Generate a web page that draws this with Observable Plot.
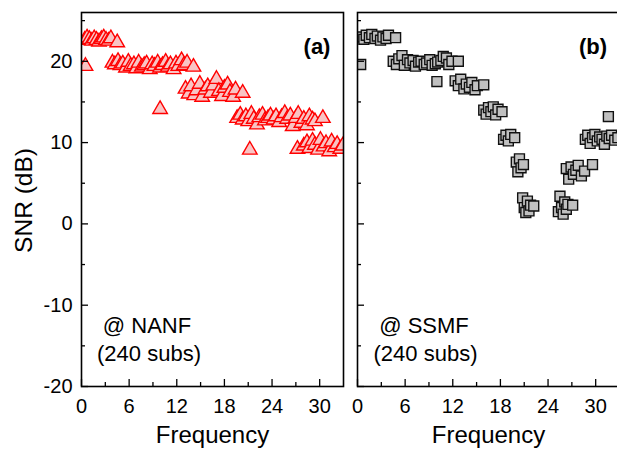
<!DOCTYPE html>
<html><head><meta charset="utf-8">
<script src="https://cdn.jsdelivr.net/npm/d3@7"></script>
<script src="https://cdn.jsdelivr.net/npm/@observablehq/plot@0.6"></script>
<style>
html,body{margin:0;padding:0;background:#fff;overflow:hidden;}
#wrap{position:relative;width:617px;height:455px;overflow:hidden;background:#fff;}
#wrap svg{position:absolute;top:0;background:transparent !important;max-width:none !important;}
</style></head><body><div id="wrap"></div>
<script>
// ---- NANF panel (a) : frequency / SNR (dB)
const nanfFreq = [
  0.5,
  0.4,0.7,1.0,1.3,1.6,1.9,2.2,2.5,2.8,3.1,3.4,3.7,4.5,
  3.9,4.2,4.6,4.9,5.2,5.6,5.9,6.2,6.6,6.9,7.2,7.6,7.9,8.2,8.6,8.9,9.2,9.6,9.9,10.2,10.6,10.9,11.2,11.6,11.9,12.2,12.6,12.9,13.3,14.1,
  9.9,
  13.1,13.5,13.8,14.2,14.5,14.9,15.2,15.6,15.9,16.3,16.6,17.0,17.3,17.7,18.0,18.4,18.7,19.1,19.4,20.3,
  21.2,
  19.6,20.0,20.3,20.7,21.0,21.4,21.7,22.1,22.4,22.8,23.1,23.5,23.8,24.2,24.5,24.9,25.2,25.6,25.9,26.3,26.6,27.0,27.3,27.7,28.0,28.4,28.7,29.1,29.4,30.4,
  27.2,
  28.0,28.4,28.7,29.1,29.4,29.8,30.1,30.5,30.8,31.2,31.5,31.9,32.2,32.6,32.9
];
const nanfSNR = [
  19.4,
  22.6,22.9,22.7,22.5,22.8,22.6,22.4,22.7,22.9,22.6,22.5,22.8,22.3,
  19.8,19.6,20.0,19.5,19.7,19.2,19.9,19.4,19.6,19.1,19.8,19.3,19.5,19.7,19.0,19.6,19.4,19.8,19.2,19.5,19.9,19.3,19.6,19.0,19.7,19.4,20.1,19.5,19.8,19.3,
  14.1,
  16.6,16.0,16.9,15.8,16.4,17.2,15.6,16.5,16.9,16.1,17.0,17.8,16.3,15.7,16.7,17.1,16.2,15.6,16.5,16.1,
  9.1,
  13.0,13.4,12.8,13.2,12.6,13.5,12.9,12.2,13.1,13.4,12.7,13.0,13.3,12.8,13.2,12.5,13.1,13.6,12.9,13.3,12.0,13.0,13.5,12.4,12.9,12.1,13.2,12.8,12.6,13.0,
  9.2,
  9.6,10.0,9.3,10.2,9.7,9.1,10.3,9.5,9.9,8.9,10.1,9.4,9.8,9.2,9.6
];
// ---- SSMF panel (b)
const ssmfFreq = [
  0.4,
  0.4,0.8,1.1,1.5,1.8,2.2,2.5,2.9,3.2,3.6,3.9,4.8,
  4.5,4.9,5.2,5.6,5.9,6.3,6.6,7.0,7.3,7.7,8.0,8.4,8.7,9.1,9.4,9.8,10.1,10.5,10.8,11.2,11.5,11.9,12.7,
  10.0,
  12.3,12.7,13.0,13.4,13.7,14.1,14.4,14.8,15.1,15.9,
  15.9,16.2,16.5,16.8,17.1,17.4,17.7,18.2,
  18.4,18.7,19.0,19.3,19.8,
  20.0,20.2,20.4,20.6,20.9,
  20.8,21.0,21.2,21.4,21.6,21.8,22.2,
  25.3,25.5,25.7,25.9,26.1,26.3,26.5,27.1,
  26.3,26.6,26.9,27.2,27.5,27.8,28.2,28.6,29.6,
  28.7,29.0,29.3,29.6,29.9,30.2,30.5,30.8,31.1,31.4,31.7,32.0,32.4,32.8,
  31.6
];
const ssmfSNR = [
  19.6,
  23.0,22.7,23.2,22.9,23.3,22.8,23.1,22.6,23.0,22.8,23.2,22.9,
  20.0,19.6,20.3,20.7,19.5,20.2,19.8,20.1,19.4,19.9,20.0,19.6,19.8,20.2,19.5,19.7,19.9,20.1,20.6,20.4,19.6,20.0,20.0,
  17.5,
  17.6,17.0,17.8,16.6,17.2,16.8,17.4,16.5,17.0,17.1,
  14.0,13.5,14.3,13.8,14.4,13.4,14.1,13.8,
  10.4,10.9,10.2,11.0,10.6,
  7.6,6.4,8.0,6.9,7.3,
  3.2,2.0,1.4,2.8,1.6,2.3,2.2,
  1.5,3.4,2.0,1.2,2.7,1.8,2.4,2.3,
  6.8,5.5,7.0,6.1,6.6,7.2,5.9,6.5,7.3,
  10.4,10.9,9.9,10.6,11.0,10.2,10.7,10.4,9.8,10.8,10.5,10.9,10.3,10.6,
  13.2
];
const xMajorTicks = [0, 6, 12, 18, 24, 30];
const xMinorTicks = [3, 9, 15, 21, 27];
const yMajorTicks = [-20, -10, 0, 10, 20];
const yMinorTicks = [-15, -5, 5, 15, 25];
const xDomain = [0, 33];
const yDomain = [-20, 26];
const panelTags = ["(a)", "(b)"];
const fiberLabels = ["@ NANF", "@ SSMF"];
const subsLabel = "(240 subs)";
const xTitle = "Frequency";
const yTitle = "SNR (dB)";

const FONT = "Arial, 'Liberation Sans', sans-serif";

function panel(opts) {
  const rows = opts.fx.map((f, i) => ({f, s: opts.sy[i]}));
  const marks = [
    Plot.dot(rows, {x: "f", y: "s", symbol: opts.symbol, r: opts.r, fill: opts.fill,
      stroke: opts.stroke, strokeWidth: 1.4, fillOpacity: 1, clip: true}),
    Plot.frame({stroke: "black", strokeWidth: 1.6}),
    Plot.axisX({ticks: xMinorTicks, tickSize: -4, tickFormat: () => "", label: null, strokeWidth: 1.3}),
    Plot.axisX({ticks: xMajorTicks, tickSize: -7, tickPadding: 19, label: null, strokeWidth: 1.3,
      fontSize: 20, fill: "black"}),
    Plot.axisY({ticks: yMinorTicks, tickSize: -4, tickFormat: () => "", label: null, strokeWidth: 1.3}),
    Plot.axisY({ticks: yMajorTicks, tickSize: -7, tickPadding: 16, label: null, strokeWidth: 1.3,
      fontSize: 20, fill: "black", tickFormat: opts.yLabels ? (d => String(d)) : (() => "")}),
    Plot.text([opts.tag], {frameAnchor: "top-right", dx: -26.5, dy: 26, textAnchor: "middle",
      fontWeight: "bold", fontSize: 22, fill: "black"}),
    Plot.text([opts.fiber], {frameAnchor: "bottom-left", dx: opts.fiberDx, dy: -54, textAnchor: "middle",
      fontSize: 22, fill: "black"}),
    Plot.text([subsLabel], {frameAnchor: "bottom-left", dx: opts.subsDx, dy: -26, textAnchor: "middle",
      fontSize: 22, fill: "black"}),
    Plot.text([xTitle], {frameAnchor: "bottom", dy: 56, textAnchor: "middle", fontSize: 24, fill: "black"})
  ];
  if (opts.yLabels) {
    marks.push(Plot.text([yTitle], {frameAnchor: "left", dx: -57, dy: 1, rotate: -90, textAnchor: "middle",
      fontSize: 24.5, fill: "black"}));
  }
  const svg = Plot.plot({
    width: opts.width, height: 455,
    marginLeft: opts.ml, marginRight: opts.mr, marginTop: 12, marginBottom: 69,
    x: {domain: xDomain},
    y: {domain: yDomain},
    style: {fontFamily: FONT, fontSize: "18px", background: "transparent", overflow: "visible"},
    marks
  });
  svg.style.left = opts.left + "px";
  return svg;
}

const wrap = document.getElementById("wrap");
wrap.appendChild(panel({fx: nanfFreq, sy: nanfSNR, symbol: "triangle", r: 5.4, fill: "#f9c4c4", stroke: "#ff0000",
  tag: panelTags[0], fiber: fiberLabels[0], fiberDx: 65.5, subsDx: 67.5, yLabels: true,
  width: 350, ml: 81, mr: 7, left: 0}));
wrap.appendChild(panel({fx: ssmfFreq, sy: ssmfSNR, symbol: "square", r: 5.6, fill: "#c0c0c0", stroke: "#111",
  tag: panelTags[1], fiber: fiberLabels[1], fiberDx: 66.5, subsDx: 68, yLabels: false,
  width: 280, ml: 7, mr: 11, left: 350}));
</script></body></html>
